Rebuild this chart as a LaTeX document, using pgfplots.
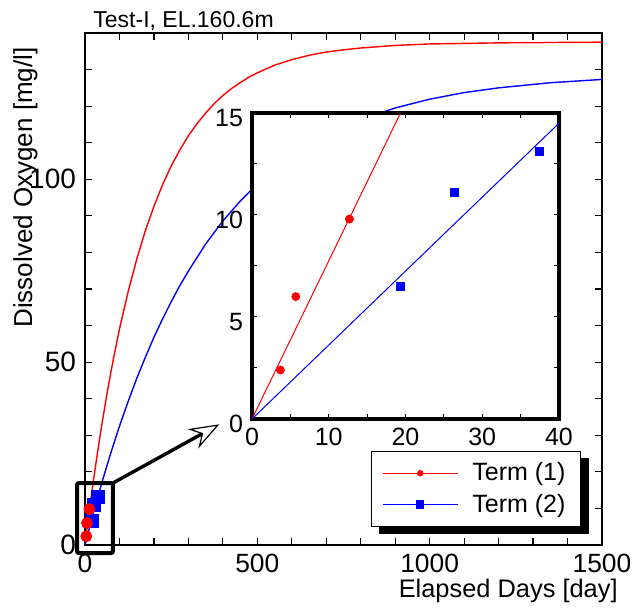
\documentclass[border=0pt]{standalone}
\usepackage{fontspec}
\setmainfont{Liberation Sans}
\usepackage{pgfplots}
\pgfplotsset{compat=1.18}
\usetikzlibrary{arrows.meta}
\pgfdeclarelayer{bg}
\pgfsetlayers{bg,main}
\begin{document}
\begin{tikzpicture}
\useasboundingbox (-42.5pt,-32.5pt) rectangle (274pt,272.5pt);
\begin{axis}[
  at={(0pt,0pt)}, anchor=south west,
  width=258.5pt, height=256pt, scale only axis,
  xmin=0, xmax=1500, ymin=0, ymax=140,
  xtick={0,500,1000,1500}, minor xtick={100,200,...,1400},
  ytick={0,50,100}, minor ytick={10,20,30,40,60,70,80,90,110,120,130},
  tick pos=both, tick align=inside,
  major tick length=3.5pt, minor tick length=3.5pt,
  every tick/.style={black, line width=0.6pt},
  axis line style={line width=0.8pt},
  tick label style={font=\fontsize{14}{14}\selectfont},
  xticklabel style={font=\fontsize{13.2}{14}\selectfont, yshift=-1pt},
  /pgf/number format/assume math mode=true,
  /pgf/number format/1000 sep={},
  yticklabel style={xshift=-1pt},
  xlabel={Elapsed Days [day]},
  ylabel={Dissolved Oxygen [mg/l]},
  label style={font=\fontsize{13}{13}\selectfont, inner sep=0pt},
  xlabel style={font=\fontsize{12.7}{13}\selectfont, at={(axis description cs:1.031,-0.1016)}, anchor=base east},
  ylabel style={at={(axis description cs:-0.1025,0.9727)}, anchor=base east},
  clip=false,
  legend cell align=left,
  legend image code/.code={\draw[mark repeat=2,mark phase=2] plot coordinates {(0pt,0pt) (18.75pt,0pt) (37.5pt,0pt)};},
  legend style={name=myleg, at={(axis description cs:0.5526,0.1836)}, anchor=north west,
    draw=black, line width=0.5pt, fill=white,
    inner xsep=5.5pt, inner ysep=3.6pt, row sep=1.1pt,
    font=\fontsize{12.5}{13}\selectfont,
    /tikz/every odd column/.append style={column sep=5pt}},
]
\addplot[red, line width=0.7pt, forget plot] coordinates {
(0,0) (12.5,9.3) (25,18.0) (37.5,26.0) (50,33.6) (62.5,40.6) (75,47.2) (87.5,53.3) (100,59.0)
(125,69.2) (150,78.1) (175,85.9) (200,92.6) (225,98.5) (250,103.6) (275,108.0) (300,111.9)
(325,115.2) (350,118.1) (375,120.7) (400,122.9) (425,124.8) (450,126.4) (475,127.9) (500,129.1)
(550,131.2) (600,132.7) (650,133.9) (700,134.8) (750,135.4) (800,135.9) (900,136.6)
(1000,137.0) (1200,137.3) (1500,137.5)};
\addplot[blue, line width=0.7pt, forget plot] coordinates {
(0,0) (25,9.0) (50,17.4) (75,25.2) (100,32.5) (125,39.2) (150,45.5) (175,51.3) (200,56.8)
(225,61.8) (250,66.5) (275,70.9) (300,74.9) (350,82.3) (400,88.6) (450,94.0) (500,98.7)
(550,102.8) (600,106.4) (650,109.4) (700,112.1) (750,114.3) (800,116.3) (900,119.5)
(1000,121.9) (1100,123.7) (1200,125.0) (1350,126.4) (1500,127.3)};
\addplot[only marks, mark=square*, mark size=3.25pt, blue, forget plot] coordinates {
(19.4,6.5) (26.4,11.1) (37.5,13.1)};
\addplot[only marks, mark=*, mark size=2.75pt, red, forget plot] coordinates {
(3.7,2.4) (5.7,6.0) (12.7,9.8)};
\draw[line width=2pt, rounded corners=1pt] (axis cs:-23.2,-2.19) rectangle (axis cs:81.2,16.95);
\draw[line width=1.7pt, -{Stealth[open, length=15pt, width=11pt, inset=5pt, line width=0.6pt, fill=white]}]
  (axis cs:82.1,17.0) -- (axis cs:389.6,33.0);
\addlegendimage{red, line width=0.6pt, mark=*, mark size=1.3pt}
\addlegendentry{Term (1)}
\addlegendimage{blue, line width=0.6pt, mark=square*, mark size=1.75pt}
\addlegendentry{Term (2)}
\node[anchor=base west, inner sep=0pt, font=\fontsize{11.5}{12}\selectfont] at (axis description cs:0.0155,1.0117) {Test-I, EL.160.6m};
\end{axis}
\begin{pgfonlayer}{bg}
\fill[black] ([shift={(4pt,-3.5pt)}]myleg.south west) rectangle ([shift={(4pt,-3.5pt)}]myleg.north east);
\end{pgfonlayer}
\begin{axis}[
  at={(83.5pt,63pt)}, anchor=south west,
  width=153.5pt, height=153pt, scale only axis,
  xmin=0, xmax=40, ymin=0, ymax=15,
  xtick={0,10,20,30,40}, minor xtick={5,15,25,35},
  ytick={0,5,10,15}, minor ytick={2.5,7.5,12.5},
  tick pos=both, tick align=inside,
  major tick length=2.5pt, minor tick length=2.5pt,
  every tick/.style={black, line width=0.5pt},
  axis line style={line width=1.6pt},
  axis background/.style={fill=white},
  tick label style={font=\fontsize{12.5}{13}\selectfont},
  /pgf/number format/assume math mode=true,
  yticklabel style={yshift=-2.5pt, xshift=-1pt},
  xticklabel style={yshift=-1pt},
]
\addplot[red, line width=0.5pt] coordinates {(0,0) (19.35,15)};
\addplot[blue, line width=0.5pt] coordinates {(0,0) (40,14.5)};
\addplot[only marks, mark=*, mark size=2pt, red] coordinates {
(3.7,2.4) (5.7,6.0) (12.7,9.8)};
\addplot[only marks, mark=square*, mark size=2pt, blue] coordinates {
(19.4,6.5) (26.4,11.1) (37.5,13.1)};
\end{axis}
\end{tikzpicture}
\end{document}
